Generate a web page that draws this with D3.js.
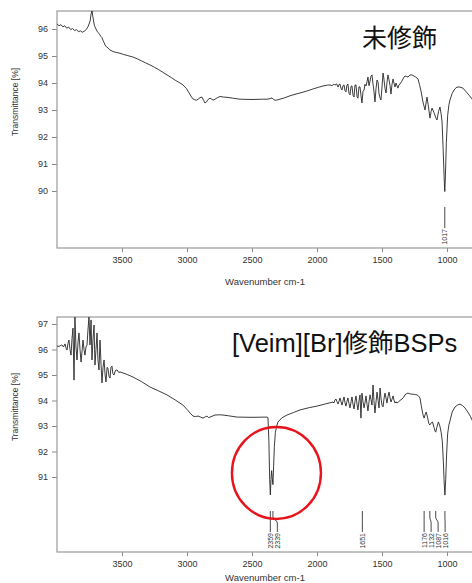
<!DOCTYPE html>
<html>
<head>
<meta charset="utf-8">
<script src="https://cdn.jsdelivr.net/npm/d3@7"></script>
<style>
    body { margin: 0; background: #fff; }
    svg { display: block; font-family: "Liberation Sans", Arial, sans-serif; }
    .axis path, .axis line { stroke: #8a8a8a; }
    .axis text { fill: #333; font-size: 9px; }
    .frame { fill: none; stroke: #9a9a9a; stroke-width: 1.2px; }
</style>
</head>
<body>
<div id="chart"></div>
<script>

// ---- data ----
let xTicks = [3500, 3000, 2500, 2000, 1500, 1000];
let topTicks = [90, 91, 92, 93, 94, 95, 96];
let botTicks = [91, 92, 93, 94, 95, 96, 97];
let topPeaks = [1017];
let botPeaks = [2359, 2339, 1651, 1176, 1132, 1087, 1016];
let topTitle = "未修飾";
let botTitle = "[Veim][Br]修飾BSPs";

// unmodified sample [wavenumber, transmittance %]
let topSpectrum = [
    [4000,96.19],[3985,96.12],[3970,96.16],[3955,96.08],[3940,96.12],[3925,96.03],[3910,96.07],[3895,95.98],
    [3880,96.02],[3865,95.94],[3850,95.98],[3835,95.90],[3820,95.93],[3805,95.88],[3790,95.92],[3775,95.98],
    [3760,96.10],[3745,96.30],[3738,96.55],[3731,96.68],[3724,96.45],[3712,96.12],[3700,96.00],[3692,95.92],
    [3682,95.86],[3672,95.80],[3662,95.72],[3654,95.68],[3646,95.58],[3638,95.50],[3631,95.41],[3620,95.34],
    [3608,95.30],[3592,95.22],[3575,95.18],[3560,95.15],[3540,95.13],[3515,95.10],[3490,95.06],[3460,95.02],
    [3415,94.96],[3380,94.89],[3350,94.82],[3320,94.75],[3285,94.67],[3250,94.58],[3220,94.50],[3190,94.41],
    [3154,94.30],[3120,94.20],[3090,94.10],[3060,94.02],[3031,93.93],[3005,93.80],[2985,93.64],[2965,93.48],
    [2954,93.41],[2940,93.38],[2928,93.36],[2915,93.40],[2900,93.46],[2885,93.48],[2872,93.36],[2862,93.26],
    [2850,93.30],[2840,93.38],[2823,93.44],[2810,93.40],[2798,93.37],[2785,93.40],[2765,93.46],[2746,93.50],
    [2720,93.48],[2692,93.47],[2650,93.44],[2592,93.40],[2500,93.39],[2420,93.40],[2385,93.40],[2360,93.42],
    [2346,93.45],[2335,93.39],[2320,93.36],[2308,93.37],[2250,93.45],[2200,93.54],[2131,93.63],[2080,93.70],
    [2030,93.78],[1990,93.84],[1954,93.89],[1920,93.92],[1900,93.93],[1885,93.90],[1870,93.96],[1862,93.92],
    [1850,93.97],[1838,93.85],[1830,93.95],[1823,93.96],[1815,93.80],[1808,93.74],[1800,93.90],[1792,93.93],
    [1785,93.72],[1777,93.67],[1770,93.92],[1762,93.96],[1754,93.62],[1746,93.56],[1738,93.88],[1731,93.89],
    [1723,93.55],[1715,93.48],[1708,93.92],[1700,93.93],[1692,93.50],[1685,93.44],[1677,93.86],[1669,93.85],
    [1662,93.55],[1654,93.26],[1646,93.70],[1638,93.74],[1631,93.95],[1623,93.89],[1615,94.05],[1608,94.22],
    [1600,93.90],[1592,94.07],[1585,94.25],[1577,94.30],[1570,94.00],[1562,93.70],[1554,93.30],[1546,93.80],
    [1538,94.11],[1530,94.02],[1523,93.60],[1515,93.45],[1508,93.37],[1500,93.85],[1492,94.37],[1485,94.15],
    [1477,93.80],[1469,93.63],[1461,94.05],[1454,94.30],[1446,94.12],[1438,93.90],[1431,93.59],[1423,93.95],
    [1415,94.15],[1408,94.00],[1400,93.85],[1392,94.00],[1385,93.90],[1377,93.81],[1370,93.93],[1362,93.96],
    [1350,94.05],[1338,94.15],[1330,94.22],[1323,94.26],[1310,94.24],[1300,94.22],[1285,94.30],[1270,94.30],
    [1254,94.26],[1240,94.22],[1223,94.15],[1212,93.95],[1200,93.70],[1185,93.30],[1169,93.00],[1160,93.30],
    [1154,93.48],[1145,93.20],[1131,92.70],[1122,92.95],[1115,93.07],[1100,92.90],[1085,92.70],[1077,92.63],
    [1065,92.95],[1054,93.11],[1045,92.85],[1038,92.56],[1030,91.60],[1022,90.50],[1017,89.98],[1012,90.60],
    [1005,91.80],[995,92.80],[985,93.20],[977,93.37],[960,93.62],[940,93.78],[923,93.85],[900,93.85],
    [877,93.81],[850,93.66],[830,93.55],[808,93.41],[800,93.36]
];

// [Veim][Br] modified sample
let botSpectrum = [
    [4000,96.14],[3985,96.12],[3970,96.16],[3962,96.18],[3950,96.10],[3938,96.22],[3930,96.05],[3923,95.98],
    [3915,96.25],[3908,96.37],[3900,96.00],[3892,95.78],[3885,96.40],[3877,96.84],[3869,94.80],[3862,97.27],
    [3854,96.10],[3846,95.59],[3838,96.30],[3831,96.65],[3823,96.00],[3815,95.51],[3808,95.90],[3800,96.37],
    [3792,96.00],[3785,95.78],[3777,96.10],[3769,96.18],[3762,96.76],[3754,97.27],[3746,96.18],[3738,97.16],
    [3731,95.59],[3723,96.40],[3715,96.96],[3708,95.39],[3700,96.00],[3692,96.65],[3685,95.60],[3677,95.20],
    [3669,96.37],[3661,95.40],[3654,94.69],[3646,95.30],[3638,95.59],[3630,95.00],[3623,94.73],[3615,95.30],
    [3608,95.27],[3600,94.95],[3592,94.88],[3585,95.30],[3577,95.35],[3570,95.05],[3562,95.00],[3550,95.18],
    [3538,95.20],[3525,95.10],[3515,95.12],[3492,95.08],[3460,95.02],[3415,94.92],[3350,94.74],[3285,94.53],
    [3220,94.38],[3154,94.22],[3090,94.02],[3031,93.82],[3000,93.65],[2975,93.50],[2954,93.39],[2935,93.37],
    [2915,93.39],[2895,93.35],[2877,93.31],[2860,93.36],[2846,93.39],[2835,93.33],[2823,93.35],[2800,93.40],
    [2785,93.43],[2750,93.44],[2723,93.43],[2680,93.40],[2615,93.35],[2500,93.34],[2385,93.35],[2377,93.33],
    [2370,92.40],[2364,90.90],[2359,90.30],[2354,90.90],[2349,91.25],[2344,90.95],[2339,90.70],[2334,91.40],
    [2328,92.20],[2320,92.75],[2310,93.00],[2300,93.16],[2270,93.32],[2231,93.43],[2180,93.53],[2131,93.63],
    [2060,93.72],[2000,93.78],[1940,93.86],[1877,93.94],[1870,93.90],[1862,94.02],[1854,94.06],[1846,93.95],
    [1838,93.86],[1830,93.98],[1823,94.10],[1815,93.95],[1808,93.82],[1800,93.98],[1792,94.14],[1785,93.92],
    [1777,93.78],[1770,93.96],[1762,94.10],[1754,93.88],[1746,93.71],[1738,93.95],[1731,94.14],[1723,93.85],
    [1715,93.67],[1708,93.96],[1700,94.18],[1692,93.85],[1685,93.63],[1677,93.98],[1669,94.22],[1662,93.31],
    [1654,94.29],[1646,93.95],[1638,93.71],[1631,93.90],[1623,94.18],[1615,93.85],[1608,93.59],[1600,93.95],
    [1592,94.22],[1585,94.05],[1577,93.82],[1569,94.61],[1562,94.00],[1554,93.51],[1546,93.95],[1538,94.33],
    [1530,94.00],[1523,93.71],[1515,94.49],[1508,94.10],[1500,93.82],[1492,93.75],[1485,94.05],[1477,94.29],
    [1469,94.10],[1462,93.90],[1454,94.15],[1446,94.33],[1438,94.10],[1431,93.94],[1423,94.05],[1415,94.18],
    [1408,94.02],[1400,93.90],[1392,93.95],[1385,93.90],[1370,93.96],[1362,94.00],[1346,94.06],[1335,94.12],
    [1323,94.22],[1310,94.27],[1300,94.29],[1285,94.26],[1269,94.25],[1250,94.24],[1231,94.22],[1220,94.18],
    [1208,94.10],[1198,93.80],[1185,93.45],[1176,93.31],[1168,93.45],[1160,93.55],[1150,93.35],[1140,93.10],
    [1132,93.04],[1122,93.12],[1112,93.16],[1100,92.95],[1092,92.80],[1087,92.76],[1078,92.95],[1066,93.16],
    [1055,93.00],[1045,92.75],[1036,92.40],[1028,91.60],[1022,90.80],[1016,90.29],[1010,90.90],[1003,91.90],
    [995,92.70],[985,93.05],[977,93.20],[960,93.55],[938,93.75],[920,93.82],[900,93.86],[880,93.80],
    [862,93.71],[840,93.55],[820,93.38],[808,93.24],[800,93.18]
];

// highlighted doublet
let circleAt = [2312, 91.16];

let svg = d3.select("#chart").append("svg")
    .attr("width", 472)
    .attr("height", 583);

svg.append("rect").attr("width", 472).attr("height", 583).attr("fill", "#fff");

function drawPanel(opts) {
    let margin = {left: 57, top: opts.top};
    let width = 416, height = opts.height;

    let g = svg.append("g")
        .attr("transform", `translate(${margin.left},${margin.top})`);

    let x = d3.scaleLinear().domain([4000, 800]).range([0, width]);
    let y = d3.scaleLinear().domain(opts.yDomain).range([height, 0]);

    g.append("clipPath").attr("id", opts.id + "-clip")
        .append("rect").attr("width", width).attr("height", height);

    // x axis
    g.append("g")
        .attr("class", "axis")
        .attr("transform", `translate(0,${height})`)
        .call(d3.axisBottom(x).tickValues(xTicks).tickFormat(d3.format("d"))
            .tickSize(4).tickPadding(5).tickSizeOuter(0))
        .call(a => a.select(".domain").remove());

    // y axis
    g.append("g")
        .attr("class", "axis")
        .call(d3.axisLeft(y).tickValues(opts.yTicks).tickFormat(d3.format("d"))
            .tickSize(5).tickPadding(4).tickSizeOuter(0))
        .call(a => a.select(".domain").remove());

    g.append("rect")
        .attr("class", "frame")
        .attr("width", width)
        .attr("height", height);

    // axis titles
    g.append("text")
        .attr("x", x(2400))
        .attr("y", height + opts.xLabelGap)
        .attr("text-anchor", "middle")
        .style("font-size", "9.5px")
        .style("fill", "#333")
        .text("Wavenumber cm-1");

    g.append("text")
        .attr("transform", `translate(${-39},${opts.yLabelAt}) rotate(-90)`)
        .attr("text-anchor", "middle")
        .style("font-size", "8.5px")
        .style("fill", "#333")
        .text("Transmittance [%]");

    // spectrum
    let line = d3.line()
        .x(d => x(d[0]))
        .y(d => y(d[1]));

    g.append("path")
        .datum(opts.spectrum)
        .attr("clip-path", `url(#${opts.id}-clip)`)
        .attr("fill", "none")
        .attr("stroke", "#262626")
        .attr("stroke-width", 0.9)
        .attr("stroke-linejoin", "round")
        .attr("d", line);

    // peak labels, pushed apart so they do not overlap
    let lastX = -Infinity;
    let marks = opts.peaks.map(p => {
        let px = x(p);
        let lx = Math.max(px, lastX + 7);
        lastX = lx;
        return {p: p, px: px, lx: lx};
    });

    let y0 = height - 41, y1 = height - 20;
    let peakG = g.append("g");
    peakG.selectAll("path")
        .data(marks)
        .enter()
        .append("path")
        .attr("fill", "none")
        .attr("stroke", "#333")
        .attr("stroke-width", 0.9)
        .attr("d", d => `M${d.px},${y0} L${d.px},${y0 + 6} C${d.px},${y0 + 9} ${d.lx},${y0 + 9} ${d.lx},${y0 + 12} L${d.lx},${y1}`);

    peakG.selectAll("text")
        .data(marks)
        .enter()
        .append("text")
        .attr("transform", d => `translate(${d.lx},${y1 + 1}) rotate(-90)`)
        .attr("text-anchor", "end")
        .attr("dy", "0.35em")
        .style("font-size", "7px")
        .style("fill", "#333")
        .text(d => d.p);

    // panel title
    svg.append("text")
        .attr("x", opts.titleX)
        .attr("y", opts.titleY)
        .style("font-family", "'Liberation Sans', 'Noto Sans CJK JP', sans-serif")
        .style("font-size", opts.titleSize)
        .style("fill", "#111")
        .text(opts.title);

    return {x: x, y: y, g: g};
}

drawPanel({
    id: "top", top: 11, height: 237,
    yDomain: [87.889, 96.667], yTicks: topTicks,
    yLabelAt: 91, xLabelGap: 37,
    spectrum: topSpectrum, peaks: topPeaks,
    title: topTitle, titleX: 362, titleY: 47, titleSize: "25px"
});

let bottom = drawPanel({
    id: "bot", top: 317, height: 235,
    yDomain: [88.059, 97.275], yTicks: botTicks,
    yLabelAt: 90, xLabelGap: 28.5,
    spectrum: botSpectrum, peaks: botPeaks,
    title: botTitle, titleX: 232, titleY: 352, titleSize: "25.5px"
});

bottom.g.append("ellipse")
    .attr("cx", bottom.x(circleAt[0]))
    .attr("cy", bottom.y(circleAt[1]))
    .attr("rx", 44.5)
    .attr("ry", 46)
    .attr("fill", "none")
    .attr("stroke", "#e8141c")
    .attr("stroke-width", 2.4);

</script>
</body>
</html>
